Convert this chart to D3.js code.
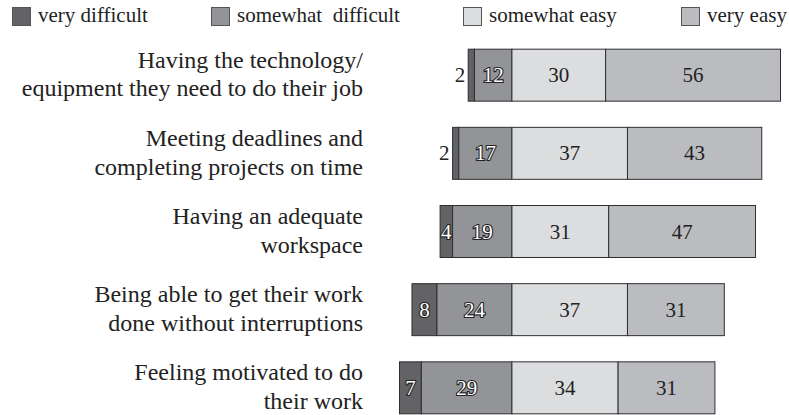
<!DOCTYPE html>
<html>
<head>
<meta charset="utf-8">
<script src="https://cdn.jsdelivr.net/npm/d3@7"></script>
<style>
  body { margin: 0; background: #fff; }
  svg { display: block; }
</style>
</head>
<body>
<div id="chart"></div>
<script>
// categories, top to bottom (each label split in two lines)
const categories = [
  ["Having the technology/", "equipment they need to do their job"],
  ["Meeting deadlines and", "completing projects on time"],
  ["Having an adequate", "workspace"],
  ["Being able to get their work", "done without interruptions"],
  ["Feeling motivated to do", "their work"]
];
const series = ["very difficult", "somewhat\u00a0\u00a0difficult", "somewhat easy", "very easy"];
const veryDifficult     = [2, 2, 4, 8, 7];
const somewhatDifficult = [12, 17, 19, 24, 29];
const somewhatEasy      = [30, 37, 31, 37, 34];
const veryEasy          = [56, 43, 47, 31, 31];
const colors = ["#636366", "#939497", "#dcdddf", "#bbbcbf"];

{
  const W = 789, H = 415;
  const font = "Liberation Serif";

  const svg = d3.select("#chart")
    .append("svg")
      .attr("width", W)
      .attr("height", H);

  // x: difficult to the left of zero, easy to the right
  const x = d3.scaleLinear()
    .domain([-40, 90])
    .range([387, 793]);

  const keys = categories.map((c, i) => i);
  const y = d3.scaleBand()
    .domain(keys)
    .range([23, 440])
    .paddingInner(0.335)
    .paddingOuter(0.335);

  const rows = keys.map(i => {
    const vd = veryDifficult[i], sd = somewhatDifficult[i],
          se = somewhatEasy[i], ve = veryEasy[i];
    return [
      {k: 0, v: vd, x0: -(vd + sd), x1: -sd},
      {k: 1, v: sd, x0: -sd, x1: 0},
      {k: 2, v: se, x0: 0, x1: se},
      {k: 3, v: ve, x0: se, x1: se + ve}
    ].map(s => Object.assign(s, {row: i}));
  });

  const g = svg.append("g");

  rows.forEach(row => {
    g.selectAll(null)
      .data(row)
      .enter()
      .append("rect")
        .attr("x", d => x(d.x0))
        .attr("y", d => y(d.row))
        .attr("width", d => x(d.x1) - x(d.x0))
        .attr("height", y.bandwidth())
        .attr("fill", d => colors[d.k])
        .attr("stroke", "#2e2e30")
        .attr("stroke-width", 1);

    row.forEach(d => {
      const cy = y(d.row) + y.bandwidth() / 2 + 7;
      const t = g.append("text")
        .attr("font-family", font)
        .attr("font-size", 21)
        .text(d.v);
      if (d.v < 3) {
        // too thin: put the number outside, left of the bar
        t.attr("x", x(d.x0) - 3).attr("y", cy)
          .attr("text-anchor", "end")
          .attr("fill", "#222");
      } else {
        t.attr("x", (x(d.x0) + x(d.x1)) / 2).attr("y", cy)
          .attr("text-anchor", "middle");
        if (d.k < 2) {
          t.attr("fill", "#fff")
            .attr("stroke", "#222")
            .attr("stroke-width", 2.2)
            .attr("paint-order", "stroke");
        } else {
          t.attr("fill", "#222");
        }
      }
    });
  });

  // category labels
  categories.forEach((lines, i) => {
    const cy = y(i) + y.bandwidth() / 2;
    g.append("text")
      .attr("text-anchor", "end")
      .attr("fill", "#222")
      .attr("font-family", font)
      .attr("font-size", 24)
      .selectAll("tspan")
      .data(lines)
      .enter()
      .append("tspan")
        .attr("x", 363)
        .attr("y", (d, j) => cy - 7.5 + j * 28.8)
        .text(d => d);
  });

  // legend
  const legendX = [12, 211, 463, 681];
  const legend = svg.append("g");
  series.forEach((s, i) => {
    legend.append("rect")
      .attr("x", legendX[i] + 0.5)
      .attr("y", 7.5)
      .attr("width", 18)
      .attr("height", 18)
      .attr("fill", colors[i])
      .attr("stroke", "#555")
      .attr("stroke-width", 1);
    legend.append("text")
      .attr("x", legendX[i] + 26)
      .attr("y", 22)
      .attr("fill", "#222")
      .attr("font-family", font)
      .attr("font-size", 21)
      .text(s);
  });
}
</script>
</body>
</html>
